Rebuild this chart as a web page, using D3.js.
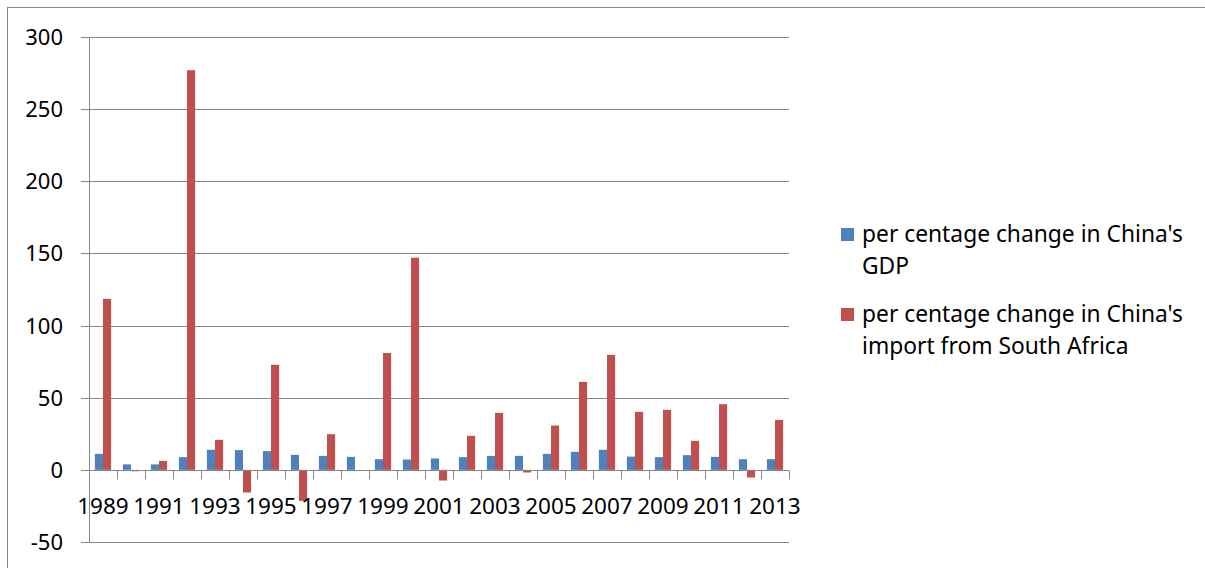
<!DOCTYPE html>
<html>
<head>
<meta charset="utf-8">
<script src="https://cdn.jsdelivr.net/npm/d3@7"></script>
<style>
  body { margin: 0; background: #fff; }
  svg { display: block; font-family: "Noto Sans", "Open Sans", sans-serif; }
</style>
</head>
<body>
<svg id="chart"></svg>
<script>
var years = d3.range(1989, 2014);
var gdpChange = [11.1, 3.8, 3.8, 8.8, 13.9, 13.7, 13.0, 10.4, 9.7, 9.0, 7.4, 7.2, 7.9,
    8.8, 9.7, 9.7, 11.1, 12.5, 13.9, 9.2, 8.8, 10.2, 9.0, 7.4, 7.4];
var importChange = [118.5, -1, 6.2, 277, 20.8, -15.7, 72.8, -21.5, 24.7, 0, 81, 147, -7.4,
    23.6, 39.5, -1.8, 30.7, 61, 79.7, 40.2, 41.6, 20.1, 45.5, -5.3, 34.6];
var seriesNames = ["per centage change in China's GDP",
    "per centage change in China's import from South Africa"];
var yTicks = [-50, 0, 50, 100, 150, 200, 250, 300];
var colors = ["#4F81BD", "#C0504D"];

var width = 1205, height = 568;
var svg = d3.select("#chart").attr("width", width).attr("height", height);

// outer chart frame
svg.append("rect")
    .attr("x", 7.5).attr("y", 7.5)
    .attr("width", width).attr("height", height)
    .attr("fill", "none").attr("stroke", "#868686");

var left = 89, right = 789;
var x = d3.scaleBand().domain(years).range([left, right]).paddingInner(0.42).paddingOuter(0.21);
var xInner = d3.scaleBand().domain([0, 1]).range([0, x.bandwidth()]);
var y = d3.scaleLinear().domain([-50, 300]).range([542, 37]);

// gridlines
svg.append("g").selectAll("line")
    .data(yTicks.filter(d => d !== 0))
    .join("line")
    .attr("x1", left - 8).attr("x2", right)
    .attr("y1", d => Math.round(y(d)) + 0.5).attr("y2", d => Math.round(y(d)) + 0.5)
    .attr("stroke", "#868686");

// y labels
svg.append("g").selectAll("text")
    .data(yTicks)
    .join("text")
    .attr("x", 63).attr("y", d => y(d) + 8)
    .attr("text-anchor", "end")
    .attr("font-size", 22)
    .attr("fill", "#000")
    .text(d => d);

// bars
var rows = years.map((yr, i) => ({ year: yr, values: [gdpChange[i], importChange[i]] }));
svg.append("g").selectAll("g")
    .data(rows)
    .join("g")
    .attr("transform", d => `translate(${x(d.year)},0)`)
    .selectAll("rect")
    .data(d => d.values.map((v, k) => ({ k: k, v: v })))
    .join("rect")
    .attr("x", d => xInner(d.k))
    .attr("width", xInner.bandwidth())
    .attr("y", d => y(Math.max(0, d.v)))
    .attr("height", d => Math.abs(y(d.v) - y(0)))
    .attr("fill", d => colors[d.k]);

// zero line, y axis line and category ticks
var zeroY = Math.round(y(0)) + 0.5;
svg.append("line")
    .attr("x1", left - 8).attr("x2", right)
    .attr("y1", zeroY).attr("y2", zeroY)
    .attr("stroke", "#868686");
svg.append("line")
    .attr("x1", left + 0.5).attr("x2", left + 0.5)
    .attr("y1", y(300)).attr("y2", Math.round(y(-50)) + 0.5)
    .attr("stroke", "#868686");
var step = (right - left) / years.length;
svg.append("g").selectAll("line")
    .data(d3.range(years.length + 1))
    .join("line")
    .attr("x1", i => Math.round(left + i * step) + 0.5)
    .attr("x2", i => Math.round(left + i * step) + 0.5)
    .attr("y1", zeroY).attr("y2", zeroY + 9)
    .attr("stroke", "#868686");

// x labels (every other year)
svg.append("g").selectAll("text")
    .data(years.filter((d, i) => i % 2 === 0))
    .join("text")
    .attr("x", d => x(d) + x.bandwidth() / 2)
    .attr("y", 514)
    .attr("text-anchor", "middle")
    .attr("font-size", 22.5)
    .attr("fill", "#000")
    .text(d => d);

// legend
var legendLines = [["per centage change in China's", "GDP"],
    ["per centage change in China's", "import from South Africa"]];
var legend = svg.append("g");
legendLines.forEach(function(lines, k) {
    var top = 228 + k * 80;
    legend.append("rect")
        .attr("x", 841).attr("y", top)
        .attr("width", 13).attr("height", 13)
        .attr("fill", colors[k]);
    lines.forEach(function(t, j) {
        legend.append("text")
            .attr("x", 862).attr("y", top + 14 + j * 32)
            .attr("font-size", 22.8)
            .attr("fill", "#000")
            .text(t);
    });
});
</script>
</body>
</html>
